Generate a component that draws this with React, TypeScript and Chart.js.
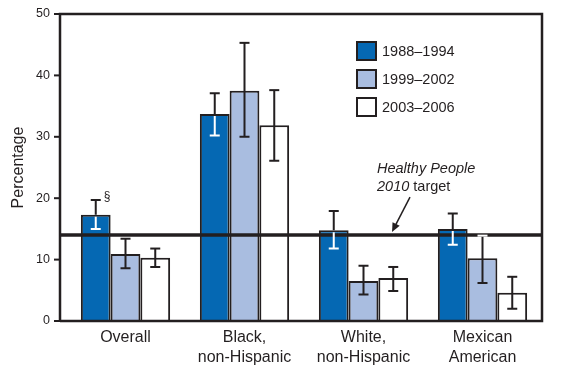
import React, { useEffect, useRef } from "react";
import { Chart, registerables } from "chart.js";

Chart.register(...registerables);

const categories: string[][] = [["Overall"], ["Black,", "non-Hispanic"], ["White,", "non-Hispanic"], ["Mexican", "American"]];
const periods: string[] = ["1988–1994", "1999–2002", "2003–2006"];

const values1988: number[] = [17.3, 33.7, 14.8, 15.0];
const low1988: number[] = [15.0, 30.2, 11.8, 12.4];
const high1988: number[] = [19.7, 37.1, 17.9, 17.5];

const values1999: number[] = [10.9, 37.5, 6.5, 10.2];
const low1999: number[] = [8.6, 30.0, 4.3, 6.2];
const high1999: number[] = [13.4, 45.3, 9.0, 13.9];

const values2003: number[] = [10.3, 31.9, 7.0, 4.6];
const low2003: number[] = [8.8, 26.1, 4.9, 2.0];
const high2003: number[] = [11.8, 37.6, 8.8, 7.2];

const targetValue = 14;
const yTicks: number[] = [0, 10, 20, 30, 40, 50];

const INK = "#231f20";
const DARK = "#0568b3";
const LIGHT = "#a9bde0";
const WHITE = "#ffffff";
const FONT = "'Liberation Sans', Arial, Helvetica, sans-serif";

const lows = [low1988, low1999, low2003];
const highs = [high1988, high1999, high2003];

const AXIS_GAP = 6; // gap between drawn y-axis line and first category slot

const overlayPlugin = {
  id: "overlay",
  beforeDatasetsDraw(chart: any) {
    const { ctx, chartArea } = chart;
    const y = chart.scales.y;
    const axX = chartArea.left - AXIS_GAP;
    ctx.save();
    ctx.strokeStyle = INK;
    ctx.lineWidth = 2;
    yTicks.forEach((v) => {
      const py = y.getPixelForValue(v);
      ctx.beginPath();
      ctx.moveTo(axX - 6, py);
      ctx.lineTo(axX, py);
      ctx.stroke();
    });
    ctx.restore();
  },
  afterDatasetsDraw(chart: any) {
    const { ctx, chartArea } = chart;
    const y = chart.scales.y;
    const axX = chartArea.left - AXIS_GAP;
    ctx.save();
    ctx.strokeStyle = INK;
    ctx.lineWidth = 2.5;
    ctx.beginPath();
    ctx.moveTo(axX, chartArea.bottom);
    ctx.lineTo(axX, chartArea.top);
    ctx.lineTo(chartArea.right, chartArea.top);
    ctx.lineTo(chartArea.right, chartArea.bottom);
    ctx.lineTo(axX, chartArea.bottom);
    ctx.stroke();

    // target line
    const ty = y.getPixelForValue(targetValue);
    ctx.lineWidth = 3.5;
    ctx.beginPath();
    ctx.moveTo(axX, ty);
    ctx.lineTo(chartArea.right, ty);
    ctx.stroke();

    // error bars
    const cap = 5;
    chart.data.datasets.forEach((ds: any, di: number) => {
      const meta = chart.getDatasetMeta(di);
      meta.data.forEach((el: any, i: number) => {
        const x = el.x;
        const hiP = y.getPixelForValue(highs[di][i]);
        const loP = y.getPixelForValue(lows[di][i]);
        const topP = el.y;
        ctx.lineWidth = 2;
        if (di === 0) {
          ctx.strokeStyle = INK;
          ctx.beginPath();
          ctx.moveTo(x, hiP);
          ctx.lineTo(x, topP);
          ctx.moveTo(x - cap, hiP);
          ctx.lineTo(x + cap, hiP);
          ctx.stroke();
          ctx.strokeStyle = WHITE;
          ctx.beginPath();
          ctx.moveTo(x, topP + 2);
          ctx.lineTo(x, loP);
          ctx.moveTo(x - cap, loP);
          ctx.lineTo(x + cap, loP);
          ctx.stroke();
        } else {
          ctx.strokeStyle = INK;
          ctx.beginPath();
          ctx.moveTo(x, hiP);
          ctx.lineTo(x, loP);
          ctx.moveTo(x - cap, loP);
          ctx.lineTo(x + cap, loP);
          ctx.stroke();
          const onTarget = Math.abs(hiP - ty) < 2;
          ctx.strokeStyle = onTarget ? WHITE : INK;
          ctx.beginPath();
          ctx.moveTo(x - cap, hiP);
          ctx.lineTo(x + cap, hiP);
          ctx.stroke();
        }
      });
    });

    // section mark
    const m0 = chart.getDatasetMeta(0).data[0];
    ctx.fillStyle = INK;
    ctx.font = `12px ${FONT}`;
    ctx.textAlign = "left";
    ctx.textBaseline = "middle";
    ctx.fillText("§", m0.x + 8, y.getPixelForValue(high1988[0]) - 3);

    // legend
    const lx = chartArea.right - 185;
    const colors = [DARK, LIGHT, WHITE];
    ctx.font = `14.5px ${FONT}`;
    periods.forEach((p, k) => {
      const by = chartArea.top + 28 + k * 28;
      ctx.fillStyle = colors[k];
      ctx.fillRect(lx, by, 19, 18);
      ctx.strokeStyle = INK;
      ctx.lineWidth = 2;
      ctx.strokeRect(lx, by, 19, 18);
      ctx.fillStyle = INK;
      ctx.textBaseline = "middle";
      ctx.fillText(p, lx + 25, by + 9.5);
    });

    // annotation
    const ax = chartArea.right - 165;
    ctx.fillStyle = INK;
    ctx.textBaseline = "middle";
    ctx.font = `italic 14.5px ${FONT}`;
    ctx.fillText("Healthy People", ax, ty - 66);
    ctx.fillText("2010", ax, ty - 48);
    const w2010 = ctx.measureText("2010").width;
    ctx.font = `14.5px ${FONT}`;
    ctx.fillText(" target", ax + w2010, ty - 48);

    // arrow
    const sx = ax + 33, sy = ty - 38;
    const ex = ax + 15, ey = ty - 3;
    ctx.strokeStyle = INK;
    ctx.lineWidth = 1.5;
    ctx.beginPath();
    ctx.moveTo(sx, sy);
    ctx.lineTo(ex + 3, ey - 6);
    ctx.stroke();
    const ang = Math.atan2(ey - sy, ex - sx);
    const hl = 9, hw = 4;
    ctx.beginPath();
    ctx.moveTo(ex, ey);
    ctx.lineTo(ex - hl * Math.cos(ang) + hw * Math.sin(ang), ey - hl * Math.sin(ang) - hw * Math.cos(ang));
    ctx.lineTo(ex - hl * Math.cos(ang) - hw * Math.sin(ang), ey - hl * Math.sin(ang) + hw * Math.cos(ang));
    ctx.closePath();
    ctx.fill();

    ctx.restore();
  },
};

export default function App() {
  const ref = useRef<HTMLCanvasElement | null>(null);
  useEffect(() => {
    if (!ref.current) return;
    const mk = (label: string, data: number[], color: string) => ({
      label,
      data,
      backgroundColor: color,
      borderColor: INK,
      borderWidth: 2,
      borderSkipped: "start" as const,
      categoryPercentage: 0.75,
      barPercentage: 1.0,
    });
    const chart = new Chart(ref.current, {
      type: "bar",
      data: {
        labels: categories,
        datasets: [
          mk(periods[0], values1988, DARK),
          mk(periods[1], values1999, LIGHT),
          mk(periods[2], values2003, WHITE),
        ],
      },
      options: {
        animation: false,
        responsive: false,
        maintainAspectRatio: false,
        layout: { padding: { top: 14, right: 20, left: 0, bottom: 0 } },
        plugins: { legend: { display: false }, tooltip: { enabled: false }, title: { display: false } },
        scales: {
          x: {
            grid: { display: false, drawTicks: false },
            border: { display: false },
            ticks: {
              color: INK,
              padding: 7,
              maxRotation: 0,
              autoSkip: false,
              font: { family: FONT, size: 16, lineHeight: 1.25 },
            },
            afterFit: (s: any) => { s.height = 59; },
          },
          y: {
            min: 0,
            max: 50,
            afterBuildTicks: (s: any) => { s.ticks = yTicks.map((v) => ({ value: v })); },
            grid: { display: false, drawOnChartArea: false, drawTicks: true, tickLength: 6 + AXIS_GAP },
            border: { display: false },
            ticks: { color: INK, padding: 4, font: { family: FONT, size: 12.5 } },
            title: {
              display: true,
              text: "Percentage",
              color: INK,
              padding: { top: 9, bottom: 0 },
              font: { family: FONT, size: 16 },
            },
            afterFit: (s: any) => { s.width = 60 + AXIS_GAP; },
          },
        },
      },
      plugins: [overlayPlugin],
    });
    return () => chart.destroy();
  }, []);
  return (
    <div style={{ position: "absolute", left: 0, top: 0, width: 562, height: 380, background: "#fff" }}>
      <canvas ref={ref} width={562} height={380} style={{ width: 562, height: 380, display: "block" }} />
    </div>
  );
}
